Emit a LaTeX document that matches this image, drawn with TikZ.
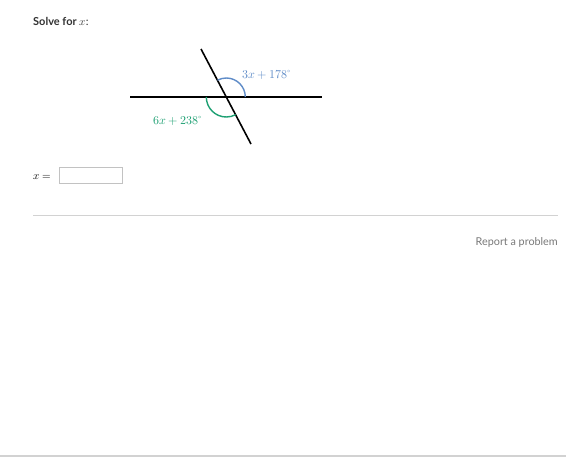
\documentclass[tikz,border=0pt]{standalone}
\usepackage{fontspec}
\setmainfont{Lato}
\usepackage{unicode-math}
\setmathfont{Latin Modern Math}
\definecolor{kblue}{RGB}{95,140,200}
\definecolor{kgreen}{RGB}{30,160,115}
\definecolor{kgray}{RGB}{120,120,120}
\definecolor{krule}{RGB}{210,210,210}
\begin{document}
\begin{tikzpicture}[x=1pt,y=-1pt,
  lineseg/.style={line width=1.6pt,black},
  arcblue/.style={line width=1.4pt,kblue},
  arcgreen/.style={line width=1.4pt,kgreen},
  lbl/.style={inner sep=0pt,anchor=base west}]
\useasboundingbox[fill=white] (0,0) rectangle (566,467);
% title
\node[lbl,text=black!80] (title) at (33,25) {\fontsize{11}{13}\selectfont\textbf{Solve for} $x$:};
% lines
\coordinate (hl) at (130,97);
\coordinate (hr) at (322,97);
\coordinate (tt) at (201,49);
\coordinate (tb) at (251,144);
\coordinate (O) at (226.3,97);
\draw[lineseg] (hl) -- (hr);
\draw[lineseg] (tt) -- (tb);
% arcs
\draw[arcblue] (O) ++(19,0) arc[start angle=0,end angle=-117.5,radius=19];
\draw[arcgreen] (O) ++(-20,0) arc[start angle=180,end angle=62,radius=20];
% labels
\node[lbl,text=kblue] (la) at (242,78) {\fontsize{12}{14}\selectfont$3x+178^{\circ}$};
\node[lbl,text=kgreen] (lb) at (153,124) {\fontsize{12}{14}\selectfont$6x+238^{\circ}$};
% answer
\node[lbl] (xeq) at (33,179) {\fontsize{11}{13}\selectfont$x=$};
\draw[krule!80!gray,line width=0.8pt] (59.5,167.5) rectangle (122.5,183.5);
% rule
\draw[krule,line width=0.8pt] (33,215) -- (558,215);
\node[inner sep=0pt,anchor=base east,text=kgray] (rep) at (558,245) {\fontsize{10.8}{12}\selectfont Report a problem};
% bottom
\draw[krule,line width=1.2pt] (0,456) -- (566,456);
\end{tikzpicture}
\end{document}
